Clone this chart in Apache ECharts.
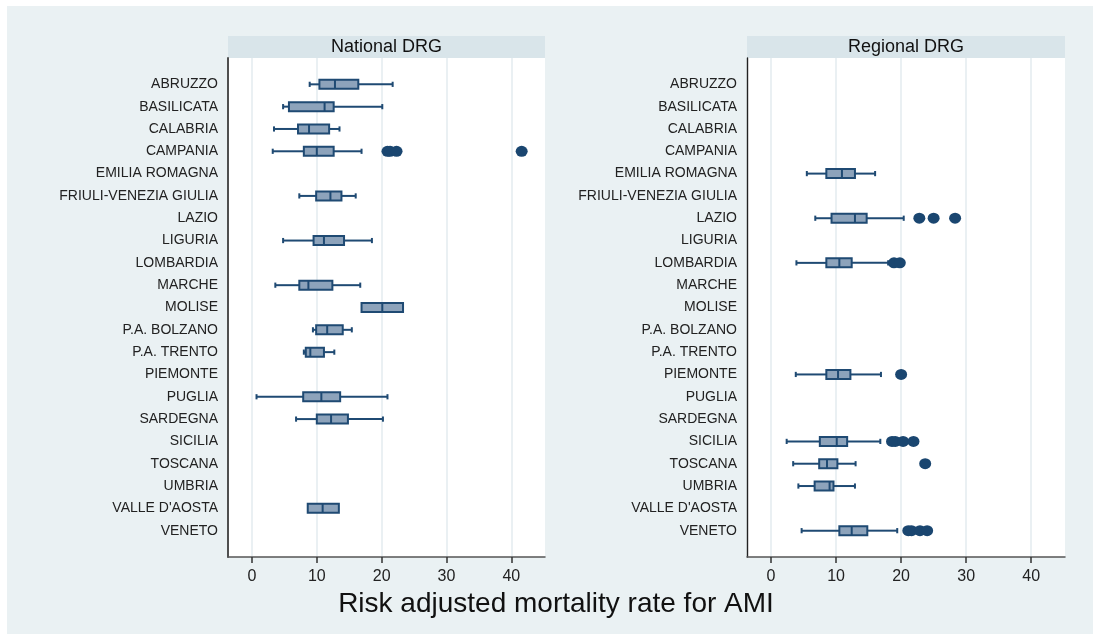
<!DOCTYPE html>
<html>
<head>
<meta charset="utf-8">
<script src="https://cdn.jsdelivr.net/npm/echarts@6/dist/echarts.min.js"></script>
<style>
  html, body { margin: 0; padding: 0; background: #ffffff; }
  #frame { position: absolute; left: 7px; top: 6px; right: 0; bottom: 0; background: #eaf1f3; }
  #chart { position: absolute; left: 0; top: 0; width: 1093px; height: 634px; }
</style>
</head>
<body>
<div id="frame"></div>
<div id="chart"></div>
<script>
// Regions, top to bottom
const regions = ['ABRUZZO', 'BASILICATA', 'CALABRIA', 'CAMPANIA', 'EMILIA ROMAGNA',
  'FRIULI-VENEZIA GIULIA', 'LAZIO', 'LIGURIA', 'LOMBARDIA', 'MARCHE', 'MOLISE',
  'P.A. BOLZANO', 'P.A. TRENTO', 'PIEMONTE', 'PUGLIA', 'SARDEGNA', 'SICILIA',
  'TOSCANA', 'UMBRIA', "VALLE D'AOSTA", 'VENETO'];

// National DRG: [lower whisker, Q1, median, Q3, upper whisker]; null = no hospitals
const nationalStats = [
  [8.9, 10.4, 12.8, 16.4, 21.7],
  [4.8, 5.7, 11.2, 12.6, 20.1],
  [3.4, 7.1, 8.8, 11.9, 13.5],
  [3.2, 8.0, 10.0, 12.6, 16.9],
  null,
  [7.3, 9.9, 12.1, 13.8, 16.0],
  null,
  [4.8, 9.5, 11.1, 14.2, 18.5],
  null,
  [3.6, 7.3, 8.7, 12.4, 16.7],
  [null, 16.9, 20.1, 23.3, null],
  [9.4, 9.9, 11.6, 14.0, 15.4],
  [8.0, 8.3, 9.0, 11.1, 12.7],
  null,
  [0.7, 7.9, 10.7, 13.6, 20.9],
  [6.8, 10.0, 12.2, 14.8, 20.2],
  null,
  null,
  null,
  [null, 8.6, 10.9, 13.4, null],
  null
];
const nationalOutliers = [
  [], [], [], [20.9, 21.3, 22.3, 41.6], [], [], [], [], [], [], [],
  [], [], [], [], [], [], [], [], [], []
];

// Regional DRG
const regionalStats = [
  null, null, null, null,
  [5.5, 8.5, 10.9, 12.9, 16.0],
  null,
  [6.8, 9.3, 12.9, 14.7, 20.4],
  null,
  [3.9, 8.5, 10.5, 12.4, 18.0],
  null, null, null, null,
  [3.8, 8.5, 10.3, 12.2, 16.9],
  null, null,
  [2.4, 7.5, 10.1, 11.7, 16.8],
  [3.4, 7.4, 8.6, 10.2, 13.0],
  [4.2, 6.7, 9.0, 9.6, 12.9],
  null,
  [4.7, 10.5, 12.4, 14.8, 19.4]
];
const regionalOutliers = [
  [], [], [], [], [], [],
  [22.8, 25.0, 28.3],
  [],
  [18.9, 19.8],
  [], [], [], [],
  [20.0],
  [], [],
  [18.6, 19.1, 20.3, 21.9],
  [23.7],
  [],
  [],
  [21.1, 21.6, 22.9, 24.0]
];

const xTicks = [0, 10, 20, 30, 40];
const panelTitles = ['National DRG', 'Regional DRG'];
const axisTitle = 'Risk adjusted mortality rate for AMI';

const FONT = '"Liberation Sans", Arial, Helvetica, sans-serif';
const NAVY = '#1f4a73';
const BOX_FILL = '#8da3bb';
const DOT = '#1a4670';

const boxData = stats => stats
  .map((s, i) => s ? [i, s[0], s[1], s[2], s[3], s[4]] : null)
  .filter(d => d);
const dotData = outs => outs.flatMap((list, i) => list.map(v => [v, i]));

// Horizontal box: whiskers with end caps, filled box and a median bar
function renderBox(params, api) {
  const idx = api.value(0);
  const lo = api.value(1), q1 = api.value(2), med = api.value(3), q3 = api.value(4), hi = api.value(5);
  const y = api.coord([q1, idx])[1];
  const px = v => api.coord([v, idx])[0];
  const halfBox = 4.5, halfCap = 2.6;
  const line = { stroke: NAVY, lineWidth: 2 };
  const kids = [];
  if (Number.isFinite(lo)) {
    kids.push({ type: 'line', shape: { x1: px(lo), y1: y, x2: px(q1), y2: y }, style: line });
    kids.push({ type: 'line', shape: { x1: px(lo), y1: y - halfCap, x2: px(lo), y2: y + halfCap }, style: line });
  }
  if (Number.isFinite(hi)) {
    kids.push({ type: 'line', shape: { x1: px(q3), y1: y, x2: px(hi), y2: y }, style: line });
    kids.push({ type: 'line', shape: { x1: px(hi), y1: y - halfCap, x2: px(hi), y2: y + halfCap }, style: line });
  }
  kids.push({ type: 'rect', shape: { x: px(q1), y: y - halfBox, width: px(q3) - px(q1), height: halfBox * 2 },
    style: { fill: BOX_FILL, stroke: NAVY, lineWidth: 2 } });
  kids.push({ type: 'line', shape: { x1: px(med), y1: y - halfBox, x2: px(med), y2: y + halfBox }, style: line });
  return { type: 'group', children: kids };
}

const grids = [
  { left: 228, top: 58, width: 317, height: 499 },
  { left: 747, top: 58, width: 318, height: 499 }
];

const xAxes = grids.map((g, i) => ({
  type: 'value', gridIndex: i, min: -3.7, max: 45.2,
  axisLine: { show: true, onZero: false, lineStyle: { color: '#555', width: 1.5 } },
  axisTick: { show: true, length: 6, customValues: xTicks, lineStyle: { color: '#333', width: 1.5 } },
  axisLabel: { customValues: xTicks, margin: 12, fontSize: 16, color: '#222', fontFamily: FONT },
  splitLine: { show: true, lineStyle: { color: '#eaf0f3', width: 2 } }
}));

const yAxes = grids.map((g, i) => ({
  type: 'value', gridIndex: i, inverse: true, min: -1.18, max: 21.18,
  axisLine: { show: true, onZero: false, lineStyle: { color: i === 0 ? '#4f4f4f' : '#222', width: i === 0 ? 2 : 1.4 } },
  axisTick: { show: false },
  splitLine: { show: false },
  axisLabel: {
    customValues: regions.map((r, k) => k),
    formatter: v => regions[Math.round(v)] || '',
    margin: 10, fontSize: 14, color: '#222', fontFamily: FONT
  }
}));

const series = [];
[[nationalStats, nationalOutliers], [regionalStats, regionalOutliers]].forEach(([stats, outs], i) => {
  series.push({
    type: 'custom', xAxisIndex: i, yAxisIndex: i,
    renderItem: renderBox,
    encode: { x: [1, 2, 3, 4, 5], y: 0 },
    data: boxData(stats), silent: true, clip: false
  });
  series.push({
    type: 'scatter', xAxisIndex: i, yAxisIndex: i,
    symbol: 'circle', symbolSize: [12, 11],
    itemStyle: { color: DOT, opacity: 1 },
    data: dotData(outs), silent: true, z: 3
  });
});

const graphics = [];
grids.forEach((g, i) => {
  graphics.push({ type: 'rect', shape: { x: g.left, y: 36, width: g.width, height: 22 }, style: { fill: '#d9e5ea' }, silent: true });
  graphics.push({ type: 'text', x: g.left + g.width / 2, y: 47,
    style: { text: panelTitles[i], font: '18px ' + FONT, fill: '#111', align: 'center', verticalAlign: 'middle' }, silent: true });
});
graphics.push({ type: 'text', x: 556, y: 604,
  style: { text: axisTitle, font: '28px ' + FONT, fill: '#111', align: 'center', verticalAlign: 'middle' }, silent: true });

const chart = echarts.init(document.getElementById('chart'), null, { renderer: 'canvas' });
chart.setOption({
  backgroundColor: 'transparent',
  animation: false,
  grid: grids.map(g => Object.assign({ show: true, backgroundColor: '#ffffff', borderWidth: 0, containLabel: false }, g)),
  xAxis: xAxes,
  yAxis: yAxes,
  series: series,
  graphic: graphics
});
</script>
</body>
</html>
